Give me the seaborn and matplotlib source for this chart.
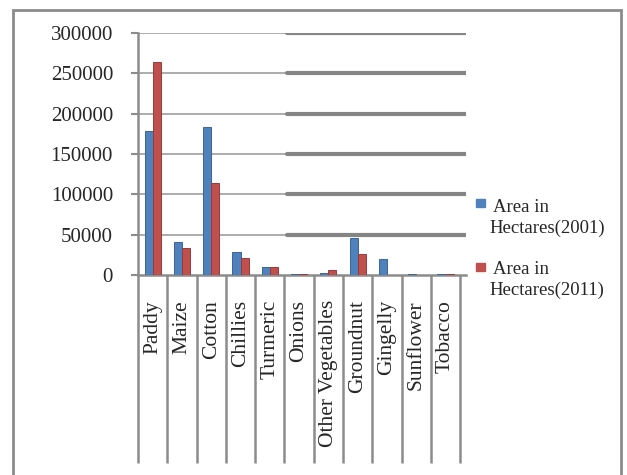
import matplotlib
matplotlib.use("Agg")
import matplotlib.pyplot as plt
import seaborn as sns
import pandas as pd
import numpy as np
from matplotlib.patches import Rectangle
from matplotlib.transforms import blended_transform_factory

# Cropped area by crop, in hectares
crops = ["Paddy", "Maize", "Cotton", "Chillies", "Turmeric", "Onions",
         "Other Vegetables", "Groundnut", "Gingelly", "Sunflower", "Tobacco"]
area_2001 = [179000, 41000, 183000, 28500, 10000, 1000, 3000, 46000, 20000, 1000, 1500]
area_2011 = [264000, 33500, 114000, 21000, 10000, 800, 6000, 26000, 500, 500, 800]
series_labels = ["Area in\nHectares(2001)", "Area in\nHectares(2011)"]
year_keys = ["2001", "2011"]
y_ticks = [0, 50000, 100000, 150000, 200000, 250000, 300000]
colors = ["#4F81BD", "#C0504D"]
edge_colors = ["#3A6595", "#963C3A"]

sns.set_theme(style="white")
plt.rcParams["font.family"] = ["Liberation Serif", "DejaVu Serif"]

df = pd.DataFrame({
    "Crop": crops * 2,
    "Area": area_2001 + area_2011,
    "Year": [year_keys[0]] * len(crops) + [year_keys[1]] * len(crops),
})

W, H = 627, 475
fig = plt.figure(figsize=(W / 100, H / 100), dpi=100)
ax = fig.add_axes([138 / W, 1 - 275 / H, (466 - 138) / W, (275 - 33) / H])

sns.barplot(data=df, x="Crop", y="Area", hue="Year", order=crops,
            hue_order=year_keys, palette=colors, saturation=1,
            width=0.55, ax=ax, legend=False, linewidth=0.7, zorder=3)
for k, patch in enumerate(ax.patches):
    patch.set_edgecolor(edge_colors[k // len(crops)])

ax.set_xlim(-0.5, 10.7)
ax.set_ylim(0, 300000)
ax.set_yticks(y_ticks)
ax.set_yticklabels([f"{v:d}" for v in y_ticks])
ax.set_xlabel("")
ax.set_ylabel("")

# Horizontal gridlines: thin on the left, heavier on the right
split = 4.59
for y in y_ticks[1:]:
    ax.plot([-0.5, split], [y, y], color="#a6a6a6", lw=1.3, zorder=1)
    ax.plot([split, 10.7], [y, y], color="#858585", lw=3.0, zorder=1)

for side in ["top", "right"]:
    ax.spines[side].set_visible(False)
for side in ["left", "bottom"]:
    ax.spines[side].set_color("#8c8c8c")
    ax.spines[side].set_linewidth(1.8)

ax.tick_params(axis="y", direction="out", length=5, width=1.5, color="#8c8c8c",
               labelsize=15, pad=13, left=True)
ax.tick_params(axis="x", length=0, labelsize=15.5, pad=18)
for lbl in ax.get_xticklabels():
    lbl.set_rotation(90)
    lbl.set_va("top")
    lbl.set_ha("center")

# Category divider lines running down through the label area
trans = blended_transform_factory(ax.transData, ax.transAxes)
ax.vlines(np.arange(-0.5, len(crops)), 0, -(463 - 275) / (275 - 33),
          transform=trans, clip_on=False, color="#8c8c8c", lw=1.8)

# Outer chart frame
fig.add_artist(Rectangle((13 / W, -0.05), (621 - 13) / W, 1 - 10 / H + 0.05,
                         fill=False, ec="#8c8c8c", lw=2.0,
                         transform=fig.transFigure))

# Legend
legend_rows = [(207, 212), (271, 274)]
for color, label, (sq_bottom, base) in zip(colors, series_labels, legend_rows):
    fig.add_artist(Rectangle((476 / W, 1 - sq_bottom / H), 9 / W, 8 / H,
                             color=color, transform=fig.transFigure))
    first, second = label.split("\n")
    fig.text(493 / W, 1 - base / H, first, fontsize=13.5, va="baseline", ha="left")
    fig.text(489 / W, 1 - (base + 21) / H, second, fontsize=13.5, va="baseline", ha="left")

fig.savefig("out.png", dpi=100)
